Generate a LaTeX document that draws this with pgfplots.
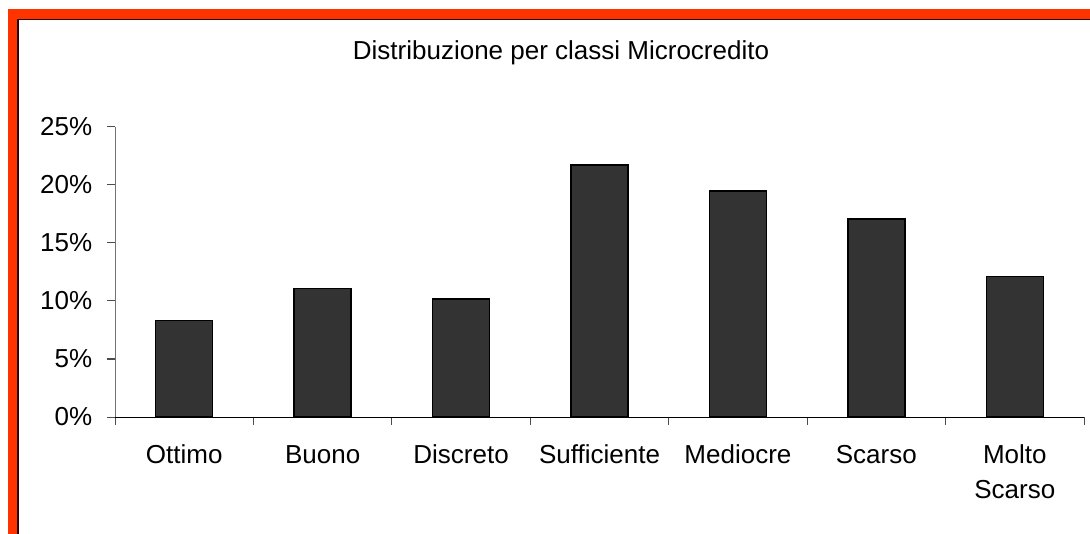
\documentclass[border=0pt]{standalone}
\usepackage{pgfplots}
\pgfplotsset{compat=1.18}
\usepackage{fontspec}
\setmainfont{Liberation Sans}
\definecolor{frame}{RGB}{255,51,0}
\definecolor{barfill}{RGB}{51,51,51}
\begin{document}
\fontsize{26}{35}\selectfont
\begin{tikzpicture}[x=1pt,y=1pt]
\useasboundingbox (0,0) rectangle (1090,533);
\clip (0,0) rectangle (1090,533);
\fill[frame] (8,524) rectangle (1100,-10);
\fill[black!85!red] (17,514) rectangle (1100,-10);
\fill[white] (19,513) rectangle (1100,-10);
\node[anchor=base] at (561,473) {Distribuzione per classi Microcredito};
\begin{axis}[
  at={(115pt,116pt)}, anchor=south west,
  scale only axis, width=969pt, height=290pt,
  xmin=-0.5, xmax=6.5, ymin=0, ymax=25,
  axis lines=left,
  x axis line style={black,-,line width=1pt},
  y axis line style={black!55,-,line width=1pt},
  tick align=outside,
  major tick length=8pt,
  tick style={black!70, line width=1pt},
  ytick={0,5,...,25},
  yticklabel={\pgfmathprintnumber{\tick}\%},
  /pgf/number format/assume math mode=true,
  yticklabel style={font=\fontsize{26}{31}\selectfont, xshift=-6pt},
  xtick={-0.5,0.5,...,6.5},
  x tick label as interval,
  xticklabels={{\strut Ottimo},{\strut Buono},{\strut Discreto},{\strut Sufficiente},{\strut Mediocre},{\strut Scarso},{\strut Molto\\\strut Scarso}},
  xticklabel style={font=\fontsize{26}{35}\selectfont, align=center, anchor=north, yshift=-14pt, inner ysep=0pt},
]
\addplot[ybar, bar width=57pt, fill=barfill, draw=black, line width=1.4pt]
  coordinates {(0,8.30) (1,11.06) (2,10.17) (3,21.73) (4,19.49) (5,17.08) (6,12.09)};
\end{axis}
\end{tikzpicture}
\end{document}
